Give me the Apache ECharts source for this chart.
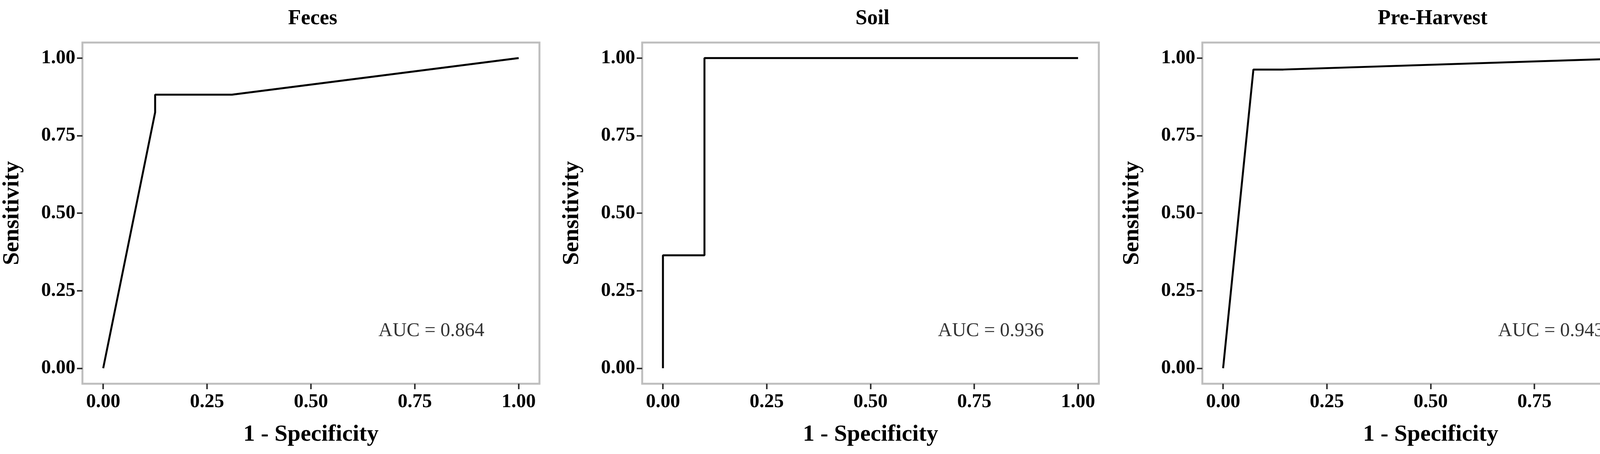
<!DOCTYPE html>
<html style="height: 100%">
<head>
    <meta charset="utf-8">
    <title>ROC curves</title>
    <script src="https://cdn.jsdelivr.net/npm/echarts@6/dist/echarts.min.js"></script>
</head>
<body style="height: 100%; margin: 0; background: #fff;">
<div id="container" style="width: 4281px; height: 1163px"></div>
<script type="text/javascript">
    // panel data: [1 - specificity, sensitivity]
    var panelTitles = ['Feces', 'Soil', 'Pre-Harvest'];
    var fecesCurve = [[0, 0], [0.125, 0.825], [0.125, 0.882], [0.31, 0.882], [1, 1]];
    var soilCurve = [[0, 0], [0, 0.364], [0.1, 0.364], [0.1, 1], [1, 1]];
    var preHarvestCurve = [[0, 0], [0.073, 0.963], [0.145, 0.963], [1, 1]];
    var aucLabels = ['AUC = 0.864', 'AUC = 0.936', 'AUC = 0.943'];
    var aucPos = [0.79, 0.12];
    var tickValues = [0, 0.25, 0.5, 0.75, 1];

    var curves = [fecesCurve, soilCurve, preHarvestCurve];
    var lefts = [210, 1644, 3078];
    var rights = [1381, 2813, 4247];
    var font = 'Liberation Serif';

    var dom = document.getElementById("container");
    var myChart = echarts.init(dom);
    var option = {
        animation: false,
        title: [], grid: [], xAxis: [], yAxis: [], series: []
    };
    for (var i = 0; i < 3; i++) {
        option.title.push({
            text: panelTitles[i],
            left: (lefts[i] + rights[i]) / 2, top: 16, textAlign: 'center',
            textStyle: {fontFamily: font, fontWeight: 'bold', fontSize: 54, color: '#000'}
        });
        option.grid.push({
            left: lefts[i], width: rights[i] - lefts[i], top: 109, height: 874,
            show: true, borderColor: '#bebebe', borderWidth: 5, backgroundColor: '#fff'
        });
        var axisCommon = {
            gridIndex: i, type: 'value', min: -0.05, max: 1.05,
            nameLocation: 'middle',
            nameTextStyle: {fontFamily: font, fontWeight: 'bold', fontSize: 60, color: '#000'},
            axisLine: {show: false, onZero: false},
            axisTick: {show: true, length: 14, lineStyle: {color: '#333', width: 4},
                customValues: tickValues},
            splitLine: {show: false},
            axisLabel: {fontFamily: font, fontWeight: 'bold', fontSize: 50, color: '#000',
                customValues: tickValues,
                formatter: function (v) { return v.toFixed(2); }}
        };
        option.xAxis.push(Object.assign({}, axisCommon, {
            name: '1 - Specificity', nameGap: 100,
            axisLabel: Object.assign({}, axisCommon.axisLabel, {margin: 22})
        }));
        option.yAxis.push(Object.assign({}, axisCommon, {
            name: 'Sensitivity', nameGap: 150,
            axisLabel: Object.assign({}, axisCommon.axisLabel, {margin: 18})
        }));
        option.series.push({
            type: 'line', xAxisIndex: i, yAxisIndex: i, data: curves[i],
            showSymbol: false, lineStyle: {color: '#000', width: 5}
        });
        option.series.push({
            type: 'scatter', xAxisIndex: i, yAxisIndex: i, symbolSize: 0,
            data: [aucPos],
            label: {show: true, position: 'inside', formatter: aucLabels[i],
                fontFamily: font, fontSize: 50, color: '#000'}
        });
    }
    myChart.setOption(option, true);
</script>
</body>
</html>
